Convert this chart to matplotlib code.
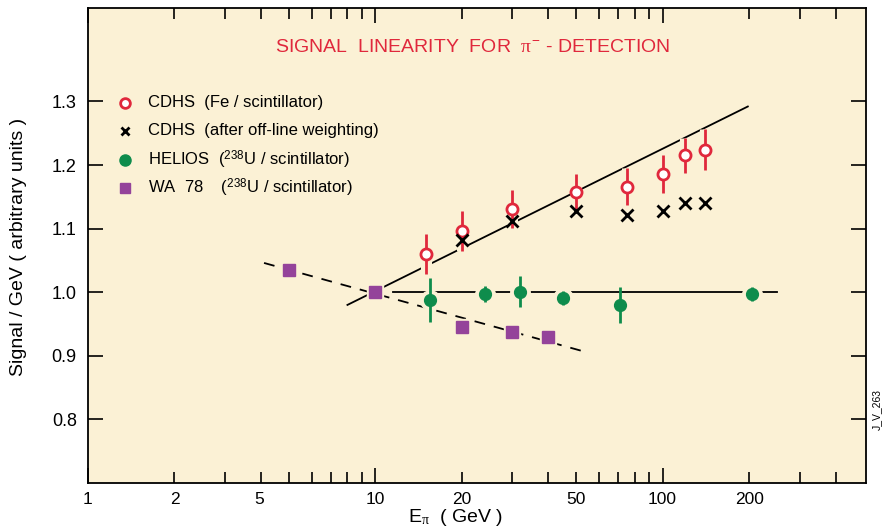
import numpy as np
import matplotlib
matplotlib.use("Agg")
import matplotlib.pyplot as plt
from matplotlib import font_manager
from matplotlib.ticker import FixedLocator, NullFormatter, FormatStrFormatter
from matplotlib.transforms import blended_transform_factory

# --- data ---
cdhs_x = [15, 20, 30, 50, 75, 100, 120, 140]
cdhs_y = [1.060, 1.096, 1.131, 1.158, 1.166, 1.186, 1.215, 1.224]
cdhs_err = [0.031, 0.031, 0.030, 0.028, 0.029, 0.030, 0.028, 0.032]

weighted_x = [20, 30, 50, 75, 100, 120, 140]
weighted_y = [1.082, 1.112, 1.127, 1.122, 1.127, 1.141, 1.141]

helios_x = [15.5, 24, 32, 45, 71, 204]
helios_y = [0.988, 0.997, 1.001, 0.991, 0.980, 0.997]
helios_err = [0.035, 0.012, 0.025, 0.011, 0.028, 0.011]

wa78_x = [5, 10, 20, 30, 40]
wa78_y = [1.035, 1.000, 0.945, 0.938, 0.930]

# fitted lines drawn in the reference
fit_cdhs_x = [8.0, 198]
fit_cdhs_y = [0.980, 1.292]
fit_wa78_x = [4.1, 55]
fit_wa78_y = [1.046, 0.905]
fit_helios_x = [11.5, 250]
fit_helios_y = [1.0, 1.0]

xtick_vals = [1, 2, 5, 10, 20, 50, 100, 200]
ytick_vals = [0.8, 0.9, 1.0, 1.1, 1.2, 1.3]

legend_labels = ["CDHS  (Fe / scintillator)",
                 "CDHS  (after off-line weighting)",
                 r"HELIOS  ($^{238}$U / scintillator)",
                 r"WA  78    ($^{238}$U / scintillator)"]

# --- style ---
BG = "#FBF1D5"
RED = "#E0283C"
GREEN = "#0E8C4C"
PURPLE = "#94439A"

installed = {f.name for f in font_manager.fontManager.ttflist}
main_font = "Liberation Sans" if "Liberation Sans" in installed else "DejaVu Sans"
serif_font = "Liberation Serif" if "Liberation Serif" in installed else "DejaVu Serif"

plt.rcParams["font.family"] = [main_font, "DejaVu Sans"]
plt.rcParams["mathtext.fontset"] = "custom"
plt.rcParams["mathtext.rm"] = main_font
plt.rcParams["mathtext.it"] = serif_font   # upright serif pi as in the reference
plt.rcParams["mathtext.sf"] = main_font

fig = plt.figure(figsize=(8.85, 5.29), dpi=100)
ax = fig.add_axes([0.0994, 0.087, 0.879, 0.898])
ax.set_facecolor(BG)
ax.set_xscale("log")
ax.set_xlim(1, 510)
ax.set_ylim(0.7, 1.447)

# fit lines
ax.plot(fit_cdhs_x, fit_cdhs_y, color="black", lw=1.3, zorder=2)
ax.plot(fit_helios_x, fit_helios_y, color="black", lw=1.3, zorder=2)
ax.plot(fit_wa78_x, fit_wa78_y, color="black", lw=1.3, ls=(0, (6, 5)), zorder=2)

# gaps in the lines around the points, as in the reference
ax.vlines(cdhs_x, np.array(cdhs_y) - np.array(cdhs_err), np.array(cdhs_y) + np.array(cdhs_err),
          color=BG, lw=8, zorder=3)
ax.plot(helios_x, helios_y, "o", ms=14, color=BG, zorder=3)
ax.plot(wa78_x, wa78_y, "s", ms=12, color=BG, zorder=3)

# data
ax.errorbar(cdhs_x, cdhs_y, yerr=cdhs_err, fmt="none", ecolor=RED, elinewidth=2, zorder=4)
ax.plot(cdhs_x, cdhs_y, "o", ms=8, mfc="white", mec=RED, mew=2, zorder=5)
ax.plot(weighted_x, weighted_y, "x", ms=8, color="black", mew=2, zorder=5)
ax.errorbar(helios_x, helios_y, yerr=helios_err, fmt="none", ecolor=GREEN, elinewidth=2, zorder=4)
ax.plot(helios_x, helios_y, "o", ms=8.5, color=GREEN, zorder=5)
ax.plot(wa78_x, wa78_y, "s", ms=8, color=PURPLE, zorder=5)

# legend drawn by hand
leg_y = [0.800, 0.741, 0.680, 0.621]
ax.plot(0.0476, leg_y[0], "o", ms=7, mfc="white", mec=RED, mew=2, transform=ax.transAxes)
ax.plot(0.0476, leg_y[1], "x", ms=6, color="black", mew=2, transform=ax.transAxes)
ax.plot(0.0476, leg_y[2], "o", ms=8, color=GREEN, transform=ax.transAxes)
ax.plot(0.0476, leg_y[3], "s", ms=7, color=PURPLE, transform=ax.transAxes)
for yy, lab in zip(leg_y, legend_labels):
    ax.text(0.077, yy, lab, transform=ax.transAxes, fontsize=12, va="center", ha="left")

ax.text(0.494, 0.916, r"SIGNAL  LINEARITY  FOR  $\pi^{-}$ - DETECTION", transform=ax.transAxes,
        color=RED, fontsize=14, ha="center", va="center")

# ticks
ax.xaxis.set_major_locator(FixedLocator([1, 10, 100]))
ax.xaxis.set_minor_locator(FixedLocator([k * 10 ** d for d in range(3) for k in range(2, 10)
                                         if k * 10 ** d < 500]))
ax.xaxis.set_major_formatter(NullFormatter())
ax.xaxis.set_minor_formatter(NullFormatter())
ax.set_yticks(ytick_vals)
ax.yaxis.set_major_formatter(FormatStrFormatter("%.1f"))
ax.yaxis.set_minor_locator(FixedLocator([]))
ax.tick_params(which="both", direction="in", top=True, right=True, width=1.2)
ax.tick_params(which="major", length=11, labelsize=13)
ax.tick_params(which="minor", length=8)
ax.tick_params(axis="y", pad=8)

trans = blended_transform_factory(ax.transData, ax.transAxes)
for v in xtick_vals:
    pos = 3.95 if v == 5 else v   # the reference prints the "5" under the 4 tick
    ax.text(pos, -0.034, str(v), transform=trans, ha="center", va="center", fontsize=12.5)

for s in ax.spines.values():
    s.set_linewidth(1.3)

ax.set_ylabel("Signal / GeV ( arbitrary units )", fontsize=14)
ax.yaxis.set_label_coords(-0.079, 0.497)
ax.text(0.472, -0.073, r"E$_{\pi}$  ( GeV )", transform=ax.transAxes, fontsize=14,
        ha="center", va="center")

fig.text(0.991, 0.225, "J_V_263", rotation=90, fontsize=7.5, ha="center", va="center")

fig.savefig("out.png", dpi=100)
